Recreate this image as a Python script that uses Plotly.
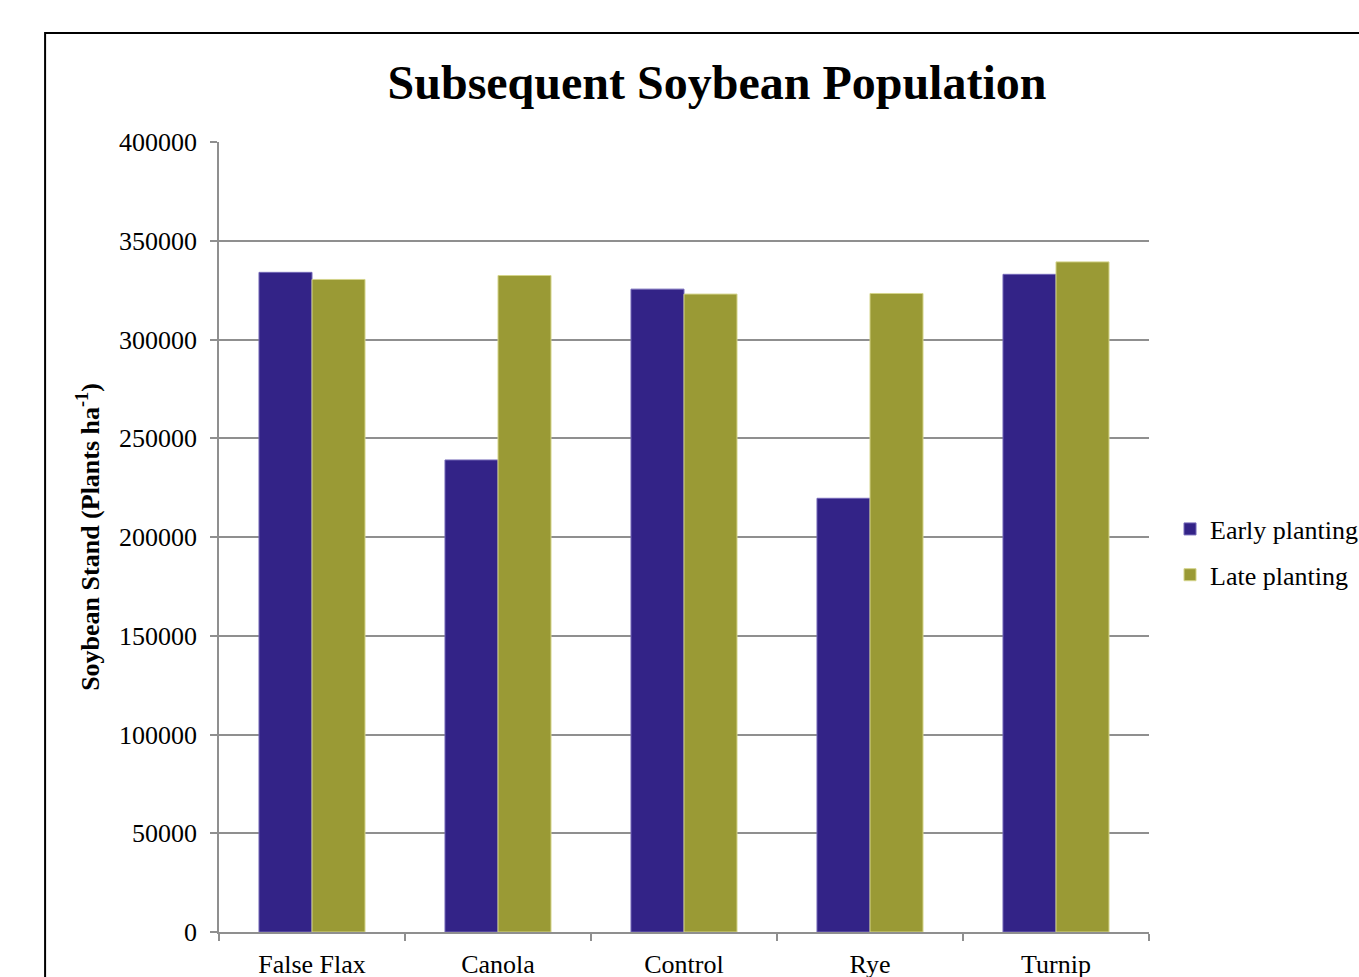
import plotly.graph_objects as go

# Soybean stand after each cover crop, plants per hectare
crops = ["False Flax", "Canola", "Control", "Rye", "Turnip"]
early_planting = [334000, 239000, 325500, 219600, 333000]
late_planting = [330400, 332400, 323000, 323300, 339300]
y_ticks = [0, 50000, 100000, 150000, 200000, 250000, 300000, 350000, 400000]

SERIF = "Liberation Serif, Times New Roman, serif"
GRID = "#8f8f8f"

fig = go.Figure()
fig.add_trace(go.Bar(
    name="Early planting", x=crops, y=early_planting, legendgroup="early",
    marker=dict(color="#332387", line=dict(color="#7468b8", width=1)),
))
fig.add_trace(go.Bar(
    name="Late planting", x=crops, y=late_planting, legendgroup="late",
    marker=dict(color="#9a9a35", line=dict(color="#d4d48a", width=1)),
))

fig.update_layout(
    width=1359, height=977,
    margin=dict(l=219, r=210, t=142, b=45, autoexpand=False),
    paper_bgcolor="white", plot_bgcolor="white",
    barmode="group", bargap=0.43, bargroupgap=0,
    font=dict(family=SERIF, size=26, color="black"),
    title=dict(
        text="<b>Subsequent Soybean Population</b>",
        font=dict(family=SERIF, size=48, color="black"),
        x=0.5276, xanchor="center", y=0.916, yanchor="middle",
    ),
    legend=dict(
        x=1.0226, xanchor="left", y=0.481, yanchor="middle",
        font=dict(family=SERIF, size=26), itemwidth=30,
        tracegroupgap=9, bgcolor="rgba(0,0,0,0)",
    ),
    showlegend=True,
)

fig.update_yaxes(
    range=[0, 400000], tickvals=y_ticks, tickformat="d",
    showgrid=True, gridcolor=GRID, gridwidth=1.5,
    showline=True, linecolor=GRID, linewidth=1.5,
    ticks="outside", ticklen=7, tickcolor=GRID, tickwidth=1.5,
    ticklabelstandoff=8, zeroline=False,
    tickfont=dict(family=SERIF, size=26, color="black"),
    title=dict(text="<b>Soybean Stand (Plants ha<sup>-1</sup>)</b>",
               font=dict(family=SERIF, size=26, color="black"), standoff=12),
)
fig.update_xaxes(
    showline=True, linecolor=GRID, linewidth=1.5,
    ticks="outside", ticklen=7, tickcolor=GRID, tickwidth=1.5,
    tickson="boundaries", showgrid=False, ticklabelstandoff=8,
    tickfont=dict(family=SERIF, size=26, color="black"),
)

# Outer chart frame
fig.add_shape(
    type="rect", xref="paper", yref="paper",
    x0=-0.187, x1=1.35, y0=-0.2, y1=1.138,
    line=dict(color="black", width=2), fillcolor="rgba(0,0,0,0)", layer="below",
)

fig.write_html("out.html")
